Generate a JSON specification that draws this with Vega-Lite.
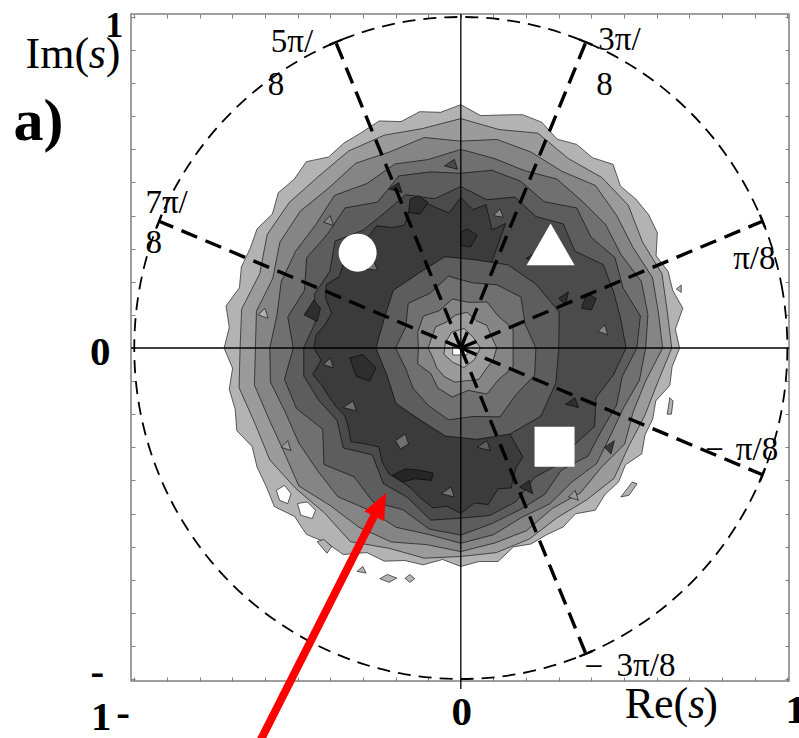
{
"$schema": "https://vega.github.io/schema/vega-lite/v6.json",
"width": 658, "height": 667,
"autosize": {"type": "none"},
"padding": {"left": 131, "top": 14, "right": 10, "bottom": 57},
"background": "white",
"config": {"view": {"stroke": "#808080", "strokeWidth": 1.5}},
"encoding": {
 "x": {"field": "x", "type": "quantitative", "scale": {"domain": [-1.01, 1.005], "nice": false, "zero": false}, "axis": null},
 "y": {"field": "y", "type": "quantitative", "scale": {"domain": [-1.006, 1.009], "nice": false, "zero": false}, "axis": null}
},
"layer": [
{
 "data": {"values": [
{"l":"a01","i":0,"x":0.670,"y":0},{"l":"a01","i":1,"x":0.657,"y":0.057},{"l":"a01","i":2,"x":0.680,"y":0.120},{"l":"a01","i":3,"x":0.649,"y":0.174},{"l":"a01","i":4,"x":0.635,"y":0.231},{"l":"a01","i":5,"x":0.598,"y":0.279},{"l":"a01","i":6,"x":0.602,"y":0.348},{"l":"a01","i":7,"x":0.575,"y":0.403},{"l":"a01","i":8,"x":0.536,"y":0.450},{"l":"a01","i":9,"x":0.489,"y":0.489},{"l":"a01","i":10,"x":0.466,"y":0.555},{"l":"a01","i":11,"x":0.403,"y":0.575},{"l":"a01","i":12,"x":0.355,"y":0.615},{"l":"a01","i":13,"x":0.295,"y":0.631},{"l":"a01","i":14,"x":0.248,"y":0.682},{"l":"a01","i":15,"x":0.189,"y":0.705},{"l":"a01","i":16,"x":0.124,"y":0.704},{"l":"a01","i":17,"x":0.061,"y":0.702},{"l":"a01","i":18,"x":0,"y":0.735},{"l":"a01","i":19,"x":-0.062,"y":0.712},{"l":"a01","i":20,"x":-0.126,"y":0.714},{"l":"a01","i":21,"x":-0.183,"y":0.684},{"l":"a01","i":22,"x":-0.250,"y":0.686},{"l":"a01","i":23,"x":-0.304,"y":0.651},{"l":"a01","i":24,"x":-0.358,"y":0.619},{"l":"a01","i":25,"x":-0.405,"y":0.577},{"l":"a01","i":26,"x":-0.473,"y":0.563},{"l":"a01","i":27,"x":-0.510,"y":0.510},{"l":"a01","i":28,"x":-0.559,"y":0.469},{"l":"a01","i":29,"x":-0.577,"y":0.405},{"l":"a01","i":30,"x":-0.624,"y":0.360},{"l":"a01","i":31,"x":-0.645,"y":0.301},{"l":"a01","i":32,"x":-0.672,"y":0.245},{"l":"a01","i":33,"x":-0.678,"y":0.182},{"l":"a01","i":34,"x":-0.719,"y":0.127},{"l":"a01","i":35,"x":-0.709,"y":0.062},{"l":"a01","i":36,"x":-0.725,"y":0},{"l":"a01","i":37,"x":-0.699,"y":-0.061},{"l":"a01","i":38,"x":-0.709,"y":-0.125},{"l":"a01","i":39,"x":-0.691,"y":-0.185},{"l":"a01","i":40,"x":-0.686,"y":-0.250},{"l":"a01","i":41,"x":-0.639,"y":-0.298},{"l":"a01","i":42,"x":-0.624,"y":-0.360},{"l":"a01","i":43,"x":-0.596,"y":-0.418},{"l":"a01","i":44,"x":-0.571,"y":-0.479},{"l":"a01","i":45,"x":-0.509,"y":-0.509},{"l":"a01","i":46,"x":-0.473,"y":-0.563},{"l":"a01","i":47,"x":-0.412,"y":-0.588},{"l":"a01","i":48,"x":-0.360,"y":-0.624},{"l":"a01","i":49,"x":-0.288,"y":-0.618},{"l":"a01","i":50,"x":-0.234,"y":-0.644},{"l":"a01","i":51,"x":-0.172,"y":-0.642},{"l":"a01","i":52,"x":-0.116,"y":-0.655},{"l":"a01","i":53,"x":-0.056,"y":-0.639},{"l":"a01","i":54,"x":0,"y":-0.660},{"l":"a01","i":55,"x":0.056,"y":-0.645},{"l":"a01","i":56,"x":0.114,"y":-0.645},{"l":"a01","i":57,"x":0.161,"y":-0.601},{"l":"a01","i":58,"x":0.215,"y":-0.592},{"l":"a01","i":59,"x":0.263,"y":-0.564},{"l":"a01","i":60,"x":0.313,"y":-0.541},{"l":"a01","i":61,"x":0.351,"y":-0.501},{"l":"a01","i":62,"x":0.412,"y":-0.490},{"l":"a01","i":63,"x":0.442,"y":-0.442},{"l":"a01","i":64,"x":0.483,"y":-0.405},{"l":"a01","i":65,"x":0.504,"y":-0.353},{"l":"a01","i":66,"x":0.554,"y":-0.320},{"l":"a01","i":67,"x":0.564,"y":-0.263},{"l":"a01","i":68,"x":0.588,"y":-0.214},{"l":"a01","i":69,"x":0.597,"y":-0.160},{"l":"a01","i":70,"x":0.640,"y":-0.113},{"l":"a01","i":71,"x":0.647,"y":-0.057},
{"l":"a02","i":0,"x":-0.565,"y":-0.43},{"l":"a02","i":1,"x":-0.54,"y":-0.415},{"l":"a02","i":2,"x":-0.52,"y":-0.44},{"l":"a02","i":3,"x":-0.53,"y":-0.47},{"l":"a02","i":4,"x":-0.555,"y":-0.46},
{"l":"a03","i":0,"x":-0.50,"y":-0.47},{"l":"a03","i":1,"x":-0.47,"y":-0.465},{"l":"a03","i":2,"x":-0.445,"y":-0.49},{"l":"a03","i":3,"x":-0.455,"y":-0.515},{"l":"a03","i":4,"x":-0.49,"y":-0.505},
{"l":"a04","i":0,"x":-0.248,"y":-0.697},{"l":"a04","i":1,"x":-0.225,"y":-0.684},{"l":"a04","i":2,"x":-0.196,"y":-0.695},{"l":"a04","i":3,"x":-0.22,"y":-0.708},
{"l":"a05","i":0,"x":-0.171,"y":-0.696},{"l":"a05","i":1,"x":-0.156,"y":-0.684},{"l":"a05","i":2,"x":-0.141,"y":-0.697},{"l":"a05","i":3,"x":-0.156,"y":-0.708},
{"l":"a06","i":0,"x":-0.318,"y":-0.675},{"l":"a06","i":1,"x":-0.3,"y":-0.66},{"l":"a06","i":2,"x":-0.29,"y":-0.68},
{"l":"a07","i":0,"x":0.49,"y":-0.45},{"l":"a07","i":1,"x":0.525,"y":-0.405},{"l":"a07","i":2,"x":0.54,"y":-0.41},{"l":"a07","i":3,"x":0.515,"y":-0.445},
{"l":"a08","i":0,"x":0.632,"y":-0.2},{"l":"a08","i":1,"x":0.64,"y":-0.15},{"l":"a08","i":2,"x":0.65,"y":-0.16},{"l":"a08","i":3,"x":0.645,"y":-0.2},
{"l":"a09","i":0,"x":0.66,"y":0.178},{"l":"a09","i":1,"x":0.675,"y":0.19},{"l":"a09","i":2,"x":0.675,"y":0.168},
{"l":"a10","i":0,"x":-0.44,"y":-0.585},{"l":"a10","i":1,"x":-0.42,"y":-0.578},{"l":"a10","i":2,"x":-0.395,"y":-0.6},{"l":"a10","i":3,"x":-0.41,"y":-0.62},
{"l":"a11","i":0,"x":0.646,"y":0},{"l":"a11","i":1,"x":0.632,"y":0.112},{"l":"a11","i":2,"x":0.616,"y":0.224},{"l":"a11","i":3,"x":0.556,"y":0.321},{"l":"a11","i":4,"x":0.513,"y":0.431},{"l":"a11","i":5,"x":0.432,"y":0.515},{"l":"a11","i":6,"x":0.33,"y":0.572},{"l":"a11","i":7,"x":0.236,"y":0.649},{"l":"a11","i":8,"x":0.117,"y":0.66},{"l":"a11","i":9,"x":0,"y":0.693},{"l":"a11","i":10,"x":-0.117,"y":0.663},{"l":"a11","i":11,"x":-0.234,"y":0.643},{"l":"a11","i":12,"x":-0.344,"y":0.595},{"l":"a11","i":13,"x":-0.435,"y":0.519},{"l":"a11","i":14,"x":-0.525,"y":0.44},{"l":"a11","i":15,"x":-0.593,"y":0.343},{"l":"a11","i":16,"x":-0.616,"y":0.224},{"l":"a11","i":17,"x":-0.671,"y":0.118},{"l":"a11","i":18,"x":-0.676,"y":0},{"l":"a11","i":19,"x":-0.679,"y":-0.12},{"l":"a11","i":20,"x":-0.63,"y":-0.229},{"l":"a11","i":21,"x":-0.585,"y":-0.338},{"l":"a11","i":22,"x":-0.506,"y":-0.424},{"l":"a11","i":23,"x":-0.418,"y":-0.498},{"l":"a11","i":24,"x":-0.338,"y":-0.585},{"l":"a11","i":25,"x":-0.22,"y":-0.605},{"l":"a11","i":26,"x":-0.112,"y":-0.635},{"l":"a11","i":27,"x":0,"y":-0.63},{"l":"a11","i":28,"x":0.109,"y":-0.618},{"l":"a11","i":29,"x":0.21,"y":-0.577},{"l":"a11","i":30,"x":0.296,"y":-0.512},{"l":"a11","i":31,"x":0.385,"y":-0.459},{"l":"a11","i":32,"x":0.469,"y":-0.394},{"l":"a11","i":33,"x":0.514,"y":-0.297},{"l":"a11","i":34,"x":0.563,"y":-0.205},{"l":"a11","i":35,"x":0.602,"y":-0.106},
{"l":"a12","i":0,"x":0.618,"y":0},{"l":"a12","i":1,"x":0.605,"y":0.107},{"l":"a12","i":2,"x":0.587,"y":0.213},{"l":"a12","i":3,"x":0.527,"y":0.304},{"l":"a12","i":4,"x":0.477,"y":0.401},{"l":"a12","i":5,"x":0.412,"y":0.491},{"l":"a12","i":6,"x":0.309,"y":0.534},{"l":"a12","i":7,"x":0.215,"y":0.592},{"l":"a12","i":8,"x":0.111,"y":0.63},{"l":"a12","i":9,"x":0,"y":0.625},{"l":"a12","i":10,"x":-0.112,"y":0.636},{"l":"a12","i":11,"x":-0.216,"y":0.593},{"l":"a12","i":12,"x":-0.322,"y":0.558},{"l":"a12","i":13,"x":-0.405,"y":0.483},{"l":"a12","i":14,"x":-0.492,"y":0.413},{"l":"a12","i":15,"x":-0.554,"y":0.32},{"l":"a12","i":16,"x":-0.576,"y":0.21},{"l":"a12","i":17,"x":-0.626,"y":0.111},{"l":"a12","i":18,"x":-0.629,"y":0},{"l":"a12","i":19,"x":-0.632,"y":-0.112},{"l":"a12","i":20,"x":-0.588,"y":-0.214},{"l":"a12","i":21,"x":-0.542,"y":-0.313},{"l":"a12","i":22,"x":-0.496,"y":-0.417},{"l":"a12","i":23,"x":-0.4,"y":-0.476},{"l":"a12","i":24,"x":-0.313,"y":-0.541},{"l":"a12","i":25,"x":-0.213,"y":-0.586},{"l":"a12","i":26,"x":-0.105,"y":-0.594},{"l":"a12","i":27,"x":0,"y":-0.615},{"l":"a12","i":28,"x":0.104,"y":-0.589},{"l":"a12","i":29,"x":0.201,"y":-0.552},{"l":"a12","i":30,"x":0.28,"y":-0.485},{"l":"a12","i":31,"x":0.367,"y":-0.437},{"l":"a12","i":32,"x":0.43,"y":-0.361},{"l":"a12","i":33,"x":0.502,"y":-0.29},{"l":"a12","i":34,"x":0.528,"y":-0.192},{"l":"a12","i":35,"x":0.566,"y":-0.1},
{"l":"a13","i":0,"x":0.566,"y":0},{"l":"a13","i":1,"x":0.573,"y":0.101},{"l":"a13","i":2,"x":0.553,"y":0.201},{"l":"a13","i":3,"x":0.49,"y":0.283},{"l":"a13","i":4,"x":0.444,"y":0.372},{"l":"a13","i":5,"x":0.372,"y":0.443},{"l":"a13","i":6,"x":0.295,"y":0.51},{"l":"a13","i":7,"x":0.195,"y":0.536},{"l":"a13","i":8,"x":0.101,"y":0.573},{"l":"a13","i":9,"x":0,"y":0.6},{"l":"a13","i":10,"x":-0.101,"y":0.569},{"l":"a13","i":11,"x":-0.202,"y":0.556},{"l":"a13","i":12,"x":-0.287,"y":0.497},{"l":"a13","i":13,"x":-0.387,"y":0.461},{"l":"a13","i":14,"x":-0.444,"y":0.373},{"l":"a13","i":15,"x":-0.506,"y":0.292},{"l":"a13","i":16,"x":-0.55,"y":0.2},{"l":"a13","i":17,"x":-0.563,"y":0.1},{"l":"a13","i":18,"x":-0.585,"y":0},{"l":"a13","i":19,"x":-0.583,"y":-0.103},{"l":"a13","i":20,"x":-0.537,"y":-0.195},{"l":"a13","i":21,"x":-0.496,"y":-0.287},{"l":"a13","i":22,"x":-0.44,"y":-0.369},{"l":"a13","i":23,"x":-0.377,"y":-0.449},{"l":"a13","i":24,"x":-0.283,"y":-0.489},{"l":"a13","i":25,"x":-0.197,"y":-0.542},{"l":"a13","i":26,"x":-0.1,"y":-0.563},{"l":"a13","i":27,"x":0,"y":-0.59},{"l":"a13","i":28,"x":0.1,"y":-0.564},{"l":"a13","i":29,"x":0.186,"y":-0.512},{"l":"a13","i":30,"x":0.272,"y":-0.471},{"l":"a13","i":31,"x":0.34,"y":-0.405},{"l":"a13","i":32,"x":0.416,"y":-0.349},{"l":"a13","i":33,"x":0.458,"y":-0.265},{"l":"a13","i":34,"x":0.498,"y":-0.181},{"l":"a13","i":35,"x":0.547,"y":-0.097},
{"l":"a14","i":0,"x":0.539,"y":0},{"l":"a14","i":1,"x":0.55,"y":0.097},{"l":"a14","i":2,"x":0.497,"y":0.181},{"l":"a14","i":3,"x":0.472,"y":0.273},{"l":"a14","i":4,"x":0.399,"y":0.335},{"l":"a14","i":5,"x":0.355,"y":0.423},{"l":"a14","i":6,"x":0.255,"y":0.442},{"l":"a14","i":7,"x":0.183,"y":0.504},{"l":"a14","i":8,"x":0.095,"y":0.537},{"l":"a14","i":9,"x":0,"y":0.528},{"l":"a14","i":10,"x":-0.094,"y":0.532},{"l":"a14","i":11,"x":-0.189,"y":0.52},{"l":"a14","i":12,"x":-0.255,"y":0.441},{"l":"a14","i":13,"x":-0.355,"y":0.423},{"l":"a14","i":14,"x":-0.409,"y":0.343},{"l":"a14","i":15,"x":-0.472,"y":0.273},{"l":"a14","i":16,"x":-0.479,"y":0.174},{"l":"a14","i":17,"x":-0.53,"y":0.094},{"l":"a14","i":18,"x":-0.513,"y":0},{"l":"a14","i":19,"x":-0.54,"y":-0.095},{"l":"a14","i":20,"x":-0.503,"y":-0.183},{"l":"a14","i":21,"x":-0.423,"y":-0.245},{"l":"a14","i":22,"x":-0.419,"y":-0.352},{"l":"a14","i":23,"x":-0.327,"y":-0.389},{"l":"a14","i":24,"x":-0.269,"y":-0.465},{"l":"a14","i":25,"x":-0.178,"y":-0.488},{"l":"a14","i":26,"x":-0.097,"y":-0.547},{"l":"a14","i":27,"x":0,"y":-0.565},{"l":"a14","i":28,"x":0.094,"y":-0.531},{"l":"a14","i":29,"x":0.178,"y":-0.49},{"l":"a14","i":30,"x":0.256,"y":-0.443},{"l":"a14","i":31,"x":0.309,"y":-0.368},{"l":"a14","i":32,"x":0.389,"y":-0.327},{"l":"a14","i":33,"x":0.431,"y":-0.249},{"l":"a14","i":34,"x":0.477,"y":-0.173},{"l":"a14","i":35,"x":0.494,"y":-0.087},
{"l":"a15","i":0,"x":0.506,"y":0},{"l":"a15","i":1,"x":0.49,"y":0.086},{"l":"a15","i":2,"x":0.468,"y":0.17},{"l":"a15","i":3,"x":0.436,"y":0.252},{"l":"a15","i":4,"x":0.349,"y":0.293},{"l":"a15","i":5,"x":0.314,"y":0.375},{"l":"a15","i":6,"x":0.23,"y":0.397},{"l":"a15","i":7,"x":0.166,"y":0.456},{"l":"a15","i":8,"x":0.079,"y":0.448},{"l":"a15","i":9,"x":0,"y":0.488},{"l":"a15","i":10,"x":-0.08,"y":0.451},{"l":"a15","i":11,"x":-0.169,"y":0.463},{"l":"a15","i":12,"x":-0.235,"y":0.407},{"l":"a15","i":13,"x":-0.299,"y":0.356},{"l":"a15","i":14,"x":-0.385,"y":0.323},{"l":"a15","i":15,"x":-0.401,"y":0.232},{"l":"a15","i":16,"x":-0.448,"y":0.163},{"l":"a15","i":17,"x":-0.445,"y":0.079},{"l":"a15","i":18,"x":-0.481,"y":0},{"l":"a15","i":19,"x":-0.481,"y":-0.085},{"l":"a15","i":20,"x":-0.435,"y":-0.158},{"l":"a15","i":21,"x":-0.379,"y":-0.219},{"l":"a15","i":22,"x":-0.36,"y":-0.302},{"l":"a15","i":23,"x":-0.271,"y":-0.323},{"l":"a15","i":24,"x":-0.237,"y":-0.41},{"l":"a15","i":25,"x":-0.164,"y":-0.451},{"l":"a15","i":26,"x":-0.092,"y":-0.52},{"l":"a15","i":27,"x":0,"y":-0.514},{"l":"a15","i":28,"x":0.089,"y":-0.506},{"l":"a15","i":29,"x":0.169,"y":-0.464},{"l":"a15","i":30,"x":0.226,"y":-0.391},{"l":"a15","i":31,"x":0.296,"y":-0.353},{"l":"a15","i":32,"x":0.348,"y":-0.292},{"l":"a15","i":33,"x":0.41,"y":-0.237},{"l":"a15","i":34,"x":0.414,"y":-0.15},{"l":"a15","i":35,"x":0.467,"y":-0.082},
{"l":"a16","i":0,"x":0.137,"y":0.376},{"l":"a16","i":1,"x":0.096,"y":0.357},{"l":"a16","i":2,"x":0.077,"y":0.433},{"l":"a16","i":3,"x":0.037,"y":0.418},{"l":"a16","i":4,"x":0,"y":0.455},{"l":"a16","i":5,"x":-0.036,"y":0.408},{"l":"a16","i":6,"x":-0.075,"y":0.424},{"l":"a16","i":7,"x":-0.119,"y":0.444},{"l":"a16","i":8,"x":-0.154,"y":0.423},{"l":"a16","i":9,"x":-0.173,"y":0.371},{"l":"a16","i":10,"x":-0.21,"y":0.364},{"l":"a16","i":11,"x":-0.258,"y":0.369},{"l":"a16","i":12,"x":-0.283,"y":0.337},{"l":"a16","i":13,"x":-0.325,"y":0.325},{"l":"a16","i":14,"x":-0.36,"y":0.302},{"l":"a16","i":15,"x":-0.36,"y":0.253},{"l":"a16","i":16,"x":-0.372,"y":0.215},{"l":"a16","i":17,"x":-0.412,"y":0.192},{"l":"a16","i":18,"x":-0.414,"y":0.15},{"l":"a16","i":19,"x":-0.396,"y":0.106},{"l":"a16","i":20,"x":-0.414,"y":0.073},{"l":"a16","i":21,"x":-0.443,"y":0.039},{"l":"a16","i":22,"x":-0.45,"y":0},{"l":"a16","i":23,"x":-0.428,"y":-0.037},{"l":"a16","i":24,"x":-0.453,"y":-0.08},{"l":"a16","i":25,"x":-0.425,"y":-0.114},{"l":"a16","i":26,"x":-0.404,"y":-0.147},{"l":"a16","i":27,"x":-0.381,"y":-0.178},{"l":"a16","i":28,"x":-0.355,"y":-0.205},{"l":"a16","i":29,"x":-0.344,"y":-0.241},{"l":"a16","i":30,"x":-0.337,"y":-0.283},{"l":"a16","i":31,"x":-0.29,"y":-0.29},{"l":"a16","i":32,"x":-0.251,"y":-0.299},{"l":"a16","i":33,"x":-0.241,"y":-0.344},{"l":"a16","i":34,"x":-0.22,"y":-0.381},{"l":"a16","i":35,"x":-0.186,"y":-0.399},{"l":"a16","i":36,"x":-0.154,"y":-0.423},{"l":"a16","i":37,"x":-0.122,"y":-0.454},{"l":"a16","i":38,"x":-0.085,"y":-0.483},{"l":"a16","i":39,"x":-0.042,"y":-0.478},{"l":"a16","i":40,"x":0,"y":-0.5},{"l":"a16","i":41,"x":0.041,"y":-0.468},{"l":"a16","i":42,"x":0.084,"y":-0.473},{"l":"a16","i":43,"x":0.114,"y":-0.425},{"l":"a16","i":44,"x":0.154,"y":-0.423},{"l":"a16","i":45,"x":0.169,"y":-0.362},{"l":"a16","i":46,"x":0.19,"y":-0.329},{"l":"a16","i":47,"x":0,"y":0},
{"l":"a17","i":0,"x":-0.21,"y":-0.385},{"l":"a17","i":1,"x":-0.17,"y":-0.365},{"l":"a17","i":2,"x":-0.12,"y":-0.37},{"l":"a17","i":3,"x":-0.085,"y":-0.378},{"l":"a17","i":4,"x":-0.09,"y":-0.4},{"l":"a17","i":5,"x":-0.14,"y":-0.395},{"l":"a17","i":6,"x":-0.18,"y":-0.405},
{"l":"a18","i":0,"x":-0.48,"y":0.1},{"l":"a18","i":1,"x":-0.45,"y":0.145},{"l":"a18","i":2,"x":-0.43,"y":0.12},{"l":"a18","i":3,"x":-0.44,"y":0.08},
{"l":"a19","i":0,"x":-0.34,"y":-0.03},{"l":"a19","i":1,"x":-0.3,"y":-0.02},{"l":"a19","i":2,"x":-0.26,"y":-0.06},{"l":"a19","i":3,"x":-0.28,"y":-0.1},{"l":"a19","i":4,"x":-0.32,"y":-0.085},
{"l":"a20","i":0,"x":0,"y":0.31},{"l":"a20","i":1,"x":0.03,"y":0.305},{"l":"a20","i":2,"x":0.05,"y":0.34},{"l":"a20","i":3,"x":0.02,"y":0.36},{"l":"a20","i":4,"x":0,"y":0.35},
{"l":"a21","i":0,"x":-0.16,"y":0.41},{"l":"a21","i":1,"x":-0.125,"y":0.405},{"l":"a21","i":2,"x":-0.1,"y":0.44},{"l":"a21","i":3,"x":-0.13,"y":0.46},{"l":"a21","i":4,"x":-0.155,"y":0.45},
{"l":"a22","i":0,"x":0.37,"y":0.12},{"l":"a22","i":1,"x":0.4,"y":0.115},{"l":"a22","i":2,"x":0.415,"y":0.15},{"l":"a22","i":3,"x":0.385,"y":0.165},
{"l":"a23","i":0,"x":-0.3,"y":0.24},{"l":"a23","i":1,"x":-0.27,"y":0.27},{"l":"a23","i":2,"x":-0.255,"y":0.235},
{"l":"a24","i":0,"x":-0.2,"y":-0.28},{"l":"a24","i":1,"x":-0.17,"y":-0.26},{"l":"a24","i":2,"x":-0.16,"y":-0.29},{"l":"a24","i":3,"x":-0.185,"y":-0.305},
{"l":"a25","i":0,"x":0.1,"y":0.4},{"l":"a25","i":1,"x":0.12,"y":0.42},{"l":"a25","i":2,"x":0.13,"y":0.395},
{"l":"a26","i":0,"x":-0.36,"y":-0.18},{"l":"a26","i":1,"x":-0.33,"y":-0.16},{"l":"a26","i":2,"x":-0.32,"y":-0.19},
{"l":"a26a","i":0,"x":-0.42,"y":0.38},{"l":"a26a","i":1,"x":-0.4,"y":0.4},{"l":"a26a","i":2,"x":-0.39,"y":0.37},
{"l":"a26b","i":0,"x":0.3,"y":0.15},{"l":"a26b","i":1,"x":0.33,"y":0.17},{"l":"a26b","i":2,"x":0.32,"y":0.13},
{"l":"a26c","i":0,"x":0.18,"y":-0.42},{"l":"a26c","i":1,"x":0.21,"y":-0.4},{"l":"a26c","i":2,"x":0.22,"y":-0.44},
{"l":"a26d","i":0,"x":0.42,"y":0.05},{"l":"a26d","i":1,"x":0.44,"y":0.07},{"l":"a26d","i":2,"x":0.45,"y":0.04},
{"l":"a26e","i":0,"x":0.44,"y":-0.3},{"l":"a26e","i":1,"x":0.47,"y":-0.28},{"l":"a26e","i":2,"x":0.46,"y":-0.32},
{"l":"a26f","i":0,"x":-0.55,"y":-0.3},{"l":"a26f","i":1,"x":-0.53,"y":-0.28},{"l":"a26f","i":2,"x":-0.52,"y":-0.31},
{"l":"a26g","i":0,"x":-0.06,"y":-0.44},{"l":"a26g","i":1,"x":-0.03,"y":-0.42},{"l":"a26g","i":2,"x":-0.02,"y":-0.45},
{"l":"a26h","i":0,"x":-0.22,"y":0.48},{"l":"a26h","i":1,"x":-0.19,"y":0.5},{"l":"a26h","i":2,"x":-0.18,"y":0.47},
{"l":"a26i","i":0,"x":-0.42,"y":-0.05},{"l":"a26i","i":1,"x":-0.4,"y":-0.03},{"l":"a26i","i":2,"x":-0.39,"y":-0.06},
{"l":"a26j","i":0,"x":0.2,"y":0.27},{"l":"a26j","i":1,"x":0.23,"y":0.29},{"l":"a26j","i":2,"x":0.24,"y":0.26},
{"l":"a26k","i":0,"x":0.33,"y":-0.45},{"l":"a26k","i":1,"x":0.35,"y":-0.43},{"l":"a26k","i":2,"x":0.36,"y":-0.46},
{"l":"a26l","i":0,"x":-0.05,"y":0.55},{"l":"a26l","i":1,"x":-0.02,"y":0.57},{"l":"a26l","i":2,"x":-0.01,"y":0.54},
{"l":"a26m","i":0,"x":0.05,"y":-0.3},{"l":"a26m","i":1,"x":0.08,"y":-0.28},{"l":"a26m","i":2,"x":0.09,"y":-0.31},
{"l":"a26n","i":0,"x":0.32,"y":-0.17},{"l":"a26n","i":1,"x":0.35,"y":-0.15},{"l":"a26n","i":2,"x":0.36,"y":-0.18},
{"l":"a26o","i":0,"x":-0.62,"y":0.1},{"l":"a26o","i":1,"x":-0.6,"y":0.12},{"l":"a26o","i":2,"x":-0.59,"y":0.09},
{"l":"a27","i":0,"x":0.3,"y":0},{"l":"a27","i":1,"x":0.301,"y":0.109},{"l":"a27","i":2,"x":0.23,"y":0.193},{"l":"a27","i":3,"x":0.145,"y":0.251},{"l":"a27","i":4,"x":0.047,"y":0.266},{"l":"a27","i":5,"x":-0.049,"y":0.276},{"l":"a27","i":6,"x":-0.13,"y":0.225},{"l":"a27","i":7,"x":-0.207,"y":0.174},{"l":"a27","i":8,"x":-0.235,"y":0.086},{"l":"a27","i":9,"x":-0.26,"y":0},{"l":"a27","i":10,"x":-0.226,"y":-0.082},{"l":"a27","i":11,"x":-0.199,"y":-0.167},{"l":"a27","i":12,"x":-0.125,"y":-0.217},{"l":"a27","i":13,"x":-0.047,"y":-0.266},{"l":"a27","i":14,"x":0.049,"y":-0.276},{"l":"a27","i":15,"x":0.15,"y":-0.26},{"l":"a27","i":16,"x":0.245,"y":-0.206},{"l":"a27","i":17,"x":0.291,"y":-0.106},
{"l":"a28","i":0,"x":0.23,"y":0},{"l":"a28","i":1,"x":0.197,"y":0.072},{"l":"a28","i":2,"x":0.184,"y":0.154},{"l":"a28","i":3,"x":0.11,"y":0.191},{"l":"a28","i":4,"x":0.035,"y":0.197},{"l":"a28","i":5,"x":-0.038,"y":0.217},{"l":"a28","i":6,"x":-0.095,"y":0.165},{"l":"a28","i":7,"x":-0.161,"y":0.135},{"l":"a28","i":8,"x":-0.169,"y":0.062},{"l":"a28","i":9,"x":-0.2,"y":0},{"l":"a28","i":10,"x":-0.169,"y":-0.062},{"l":"a28","i":11,"x":-0.146,"y":-0.122},{"l":"a28","i":12,"x":-0.1,"y":-0.173},{"l":"a28","i":13,"x":-0.038,"y":-0.217},{"l":"a28","i":14,"x":0.037,"y":-0.207},{"l":"a28","i":15,"x":0.12,"y":-0.208},{"l":"a28","i":16,"x":0.169,"y":-0.141},{"l":"a28","i":17,"x":0.226,"y":-0.082},
{"l":"a29","i":0,"x":0.16,"y":0},{"l":"a29","i":1,"x":0.16,"y":0.058},{"l":"a29","i":2,"x":0.115,"y":0.096},{"l":"a29","i":3,"x":0.08,"y":0.139},{"l":"a29","i":4,"x":0.024,"y":0.138},{"l":"a29","i":5,"x":-0.026,"y":0.148},{"l":"a29","i":6,"x":-0.065,"y":0.113},{"l":"a29","i":7,"x":-0.115,"y":0.096},{"l":"a29","i":8,"x":-0.132,"y":0.048},{"l":"a29","i":9,"x":-0.13,"y":0},{"l":"a29","i":10,"x":-0.132,"y":-0.048},{"l":"a29","i":11,"x":-0.092,"y":-0.077},{"l":"a29","i":12,"x":-0.07,"y":-0.121},{"l":"a29","i":13,"x":-0.026,"y":-0.148},{"l":"a29","i":14,"x":0.023,"y":-0.128},{"l":"a29","i":15,"x":0.08,"y":-0.139},{"l":"a29","i":16,"x":0.115,"y":-0.096},{"l":"a29","i":17,"x":0.16,"y":-0.058},
{"l":"a30","i":0,"x":0.11,"y":0},{"l":"a30","i":1,"x":0.094,"y":0.034},{"l":"a30","i":2,"x":0.08,"y":0.068},{"l":"a30","i":3,"x":0.048,"y":0.082},{"l":"a30","i":4,"x":0.019,"y":0.108},{"l":"a30","i":5,"x":-0.017,"y":0.099},{"l":"a30","i":6,"x":-0.045,"y":0.078},{"l":"a30","i":7,"x":-0.077,"y":0.064},{"l":"a30","i":8,"x":-0.089,"y":0.032},{"l":"a30","i":9,"x":-0.1,"y":0},{"l":"a30","i":10,"x":-0.085,"y":-0.031},{"l":"a30","i":11,"x":-0.073,"y":-0.061},{"l":"a30","i":12,"x":-0.05,"y":-0.087},{"l":"a30","i":13,"x":-0.018,"y":-0.103},{"l":"a30","i":14,"x":0.017,"y":-0.099},{"l":"a30","i":15,"x":0.055,"y":-0.095},{"l":"a30","i":16,"x":0.077,"y":-0.064},{"l":"a30","i":17,"x":0.099,"y":-0.036},
{"l":"a31","i":0,"x":0.06,"y":0},{"l":"a31","i":1,"x":0.038,"y":0.032},{"l":"a31","i":2,"x":0.01,"y":0.059},{"l":"a31","i":3,"x":-0.028,"y":0.048},{"l":"a31","i":4,"x":-0.047,"y":0.017},{"l":"a31","i":5,"x":-0.052,"y":-0.019},{"l":"a31","i":6,"x":-0.025,"y":-0.043},{"l":"a31","i":7,"x":0.01,"y":-0.059},{"l":"a31","i":8,"x":0.042,"y":-0.035},
{"l":"a32","i":0,"x":-0.025,"y":0.003},{"l":"a32","i":1,"x":0.019,"y":0.003},{"l":"a32","i":2,"x":0.019,"y":-0.021},{"l":"a32","i":3,"x":-0.025,"y":-0.021}
 ]},
 "mark": {"type": "line", "interpolate": "linear-closed", "stroke": "#000000", "strokeWidth": 0.6, "strokeJoin": "round"},
 "encoding": {
  "fill": {"field": "l", "type": "nominal", "legend": null,
   "scale": {"domain": ["a01","a02","a03","a04","a05","a06","a07","a08","a09","a10","a11","a12","a13","a14","a15","a16","a17","a18","a19","a20","a21","a22","a23","a24","a25","a26","a26a","a26b","a26c","a26d","a26e","a26f","a26g","a26h","a26i","a26j","a26k","a26l","a26m","a26n","a26o","a27","a28","a29","a30","a31","a32"],
    "range": ["#b3b3b3","#ffffff","#ffffff","#b3b3b3","#b3b3b3","#b3b3b3","#b3b3b3","#b3b3b3","#b3b3b3","#b3b3b3","#9b9b9b","#858585","#707070","#5d5d5d","#4b4b4b","#3b3b3b","#262626","#2e2e2e","#2e2e2e","#2e2e2e","#2e2e2e","#2e2e2e","#707070","#707070","#858585","#707070","#858585","#2e2e2e","#2e2e2e","#858585","#3b3b3b","#9b9b9b","#707070","#2e2e2e","#707070","#2e2e2e","#9b9b9b","#4b4b4b","#5d5d5d","#2e2e2e","#b3b3b3","#5d5d5d","#707070","#858585","#9b9b9b","#b3b3b3","#ffffff"]}},
  "order": {"field": "i", "type": "quantitative"}
 }
},
{
 "data": {"values": [{"x": -1.01, "y": 0, "x2": 1.005, "y2": 0}, {"x": 0, "y": 1.009, "x2": 0, "y2": -1.03}]},
 "mark": {"type": "rule", "color": "#000000", "strokeWidth": 1.3},
 "encoding": {
  "x": {"field": "x", "type": "quantitative", "scale": {"domain": [-1.01, 1.005], "nice": false, "zero": false},
   "axis": {"orient": "top", "values": [-1,-0.9,-0.8,-0.7,-0.6,-0.5,-0.4,-0.3,-0.2,-0.1,0,0.1,0.2,0.3,0.4,0.5,0.6,0.7,0.8,0.9,1], "labels": false, "domain": false, "grid": false, "ticks": true, "tickSize": -4, "tickColor": "#808080", "tickWidth": 1, "title": null}},
  "y": {"field": "y", "type": "quantitative", "scale": {"domain": [-1.006, 1.009], "nice": false, "zero": false},
   "axis": {"orient": "right", "values": [-1,-0.9,-0.8,-0.7,-0.6,-0.5,-0.4,-0.3,-0.2,-0.1,0,0.1,0.2,0.3,0.4,0.5,0.6,0.7,0.8,0.9,1], "labels": false, "domain": false, "grid": false, "ticks": true, "tickSize": -4, "tickColor": "#808080", "tickWidth": 1, "title": null}},
  "x2": {"field": "x2"},
  "y2": {"field": "y2"}
 }
},
{
 "data": {"values": [
{"i":0,"x":1,"y":0},{"i":1,"x":0.985,"y":0.174},{"i":2,"x":0.940,"y":0.342},{"i":3,"x":0.866,"y":0.5},{"i":4,"x":0.766,"y":0.643},{"i":5,"x":0.643,"y":0.766},{"i":6,"x":0.5,"y":0.866},{"i":7,"x":0.342,"y":0.940},{"i":8,"x":0.174,"y":0.985},{"i":9,"x":0,"y":1},{"i":10,"x":-0.174,"y":0.985},{"i":11,"x":-0.342,"y":0.940},{"i":12,"x":-0.5,"y":0.866},{"i":13,"x":-0.643,"y":0.766},{"i":14,"x":-0.766,"y":0.643},{"i":15,"x":-0.866,"y":0.5},{"i":16,"x":-0.940,"y":0.342},{"i":17,"x":-0.985,"y":0.174},{"i":18,"x":-1,"y":0},{"i":19,"x":-0.985,"y":-0.174},{"i":20,"x":-0.940,"y":-0.342},{"i":21,"x":-0.866,"y":-0.5},{"i":22,"x":-0.766,"y":-0.643},{"i":23,"x":-0.643,"y":-0.766},{"i":24,"x":-0.5,"y":-0.866},{"i":25,"x":-0.342,"y":-0.940},{"i":26,"x":-0.174,"y":-0.985},{"i":27,"x":0,"y":-1},{"i":28,"x":0.174,"y":-0.985},{"i":29,"x":0.342,"y":-0.940},{"i":30,"x":0.5,"y":-0.866},{"i":31,"x":0.643,"y":-0.766},{"i":32,"x":0.766,"y":-0.643},{"i":33,"x":0.866,"y":-0.5},{"i":34,"x":0.940,"y":-0.342},{"i":35,"x":0.985,"y":-0.174}
 ]},
 "mark": {"type": "line", "interpolate": "cardinal-closed", "stroke": "#000000", "strokeWidth": 1.8, "strokeDash": [13, 8], "fill": null},
 "encoding": {
  "x": {"field": "x", "type": "quantitative", "scale": {"domain": [-1.01, 1.005], "nice": false, "zero": false},
   "axis": {"orient": "bottom", "values": [-1,-0.9,-0.8,-0.7,-0.6,-0.5,-0.4,-0.3,-0.2,-0.1,0,0.1,0.2,0.3,0.4,0.5,0.6,0.7,0.8,0.9,1], "labels": false, "domain": false, "grid": false, "ticks": true, "tickSize": -4, "tickColor": "#808080", "tickWidth": 1, "title": null}},
  "y": {"field": "y", "type": "quantitative", "scale": {"domain": [-1.006, 1.009], "nice": false, "zero": false},
   "axis": {"orient": "left", "values": [-1,-0.9,-0.8,-0.7,-0.6,-0.5,-0.4,-0.3,-0.2,-0.1,0,0.1,0.2,0.3,0.4,0.5,0.6,0.7,0.8,0.9,1], "labels": false, "domain": false, "grid": false, "ticks": true, "tickSize": -4, "tickColor": "#808080", "tickWidth": 1, "title": null}},
  "order": {"field": "i", "type": "quantitative"}
 }
},
{
 "data": {"values": [
  {"x":0,"y":0,"x2":0.924,"y2":0.383},{"x":0,"y":0,"x2":0.383,"y2":0.924},{"x":0,"y":0,"x2":-0.383,"y2":0.924},{"x":0,"y":0,"x2":-0.924,"y2":0.383},{"x":0,"y":0,"x2":0.924,"y2":-0.383},{"x":0,"y":0,"x2":0.383,"y2":-0.924}
 ]},
 "mark": {"type": "rule", "color": "#000000", "strokeWidth": 3.4, "strokeDash": [17, 9]},
 "encoding": {"x2": {"field": "x2"}, "y2": {"field": "y2"}}
},
{
 "data": {"values": [
  {"x":0.916,"y":0.403,"x2":0.932,"y2":0.363},{"x":0.363,"y":0.932,"x2":0.403,"y2":0.916},{"x":-0.403,"y":0.916,"x2":-0.363,"y2":0.932},{"x":-0.932,"y":0.363,"x2":-0.916,"y2":0.403},{"x":0.932,"y":-0.363,"x2":0.916,"y2":-0.403},{"x":0.403,"y":-0.916,"x2":0.363,"y2":-0.932}
 ]},
 "mark": {"type": "rule", "color": "#000000", "strokeWidth": 2.4},
 "encoding": {"x2": {"field": "x2"}, "y2": {"field": "y2"}}
},
{
 "data": {"values": [{"x": -0.316, "y": 0.288}]},
 "mark": {"type": "point", "shape": "circle", "size": 1444, "filled": true, "fill": "#ffffff", "strokeWidth": 0, "opacity": 1}
},
{
 "data": {"values": [{"x": 0.275, "y": 0.313}]},
 "mark": {"type": "point", "shape": "triangle-up", "size": 2304, "filled": true, "fill": "#ffffff", "strokeWidth": 0, "opacity": 1}
},
{
 "data": {"values": [{"x": 0.287, "y": -0.298}]},
 "mark": {"type": "point", "shape": "square", "size": 1600, "filled": true, "fill": "#ffffff", "strokeWidth": 0, "opacity": 1}
},
{
 "data": {"values": [
  {"x":-0.517,"y":0.924,"t":"5π/"},{"x":-0.566,"y":0.796,"t":"8"},{"x":0.486,"y":0.93,"t":"3π/"},{"x":0.44,"y":0.796,"t":"8"},{"x":-0.901,"y":0.438,"t":"7π/"},{"x":-0.94,"y":0.316,"t":"8"},{"x":0.899,"y":0.27,"t":"π/8"},{"x":0.907,"y":-0.308,"t":"π/8"},{"x":0.777,"y":-0.308,"t":"−"},{"x":0.567,"y":-0.962,"t":"3π/8"},{"x":0.407,"y":-0.965,"t":"−"}
 ]},
 "mark": {"type": "text", "font": "Liberation Serif", "fontSize": 33, "align": "center", "baseline": "middle", "color": "#000000"},
 "encoding": {"text": {"field": "t"}}
},
{
 "data": {"values": [
  {"x":-1.104,"y":-0.014,"t":"0"},{"x":-1.113,"y":-0.982,"t":"-"},{"x":-1.101,"y":-1.118,"t":"1"},{"x":-1.034,"y":-1.106,"t":"-"},{"x":0.003,"y":-1.104,"t":"0"},{"x":1.026,"y":-1.098,"t":"1"}
 ]},
 "mark": {"type": "text", "font": "Liberation Serif", "fontSize": 41, "fontWeight": "bold", "align": "center", "baseline": "middle", "color": "#000000"},
 "encoding": {"text": {"field": "t"}}
},
{
 "data": {"values": [{"x": -1.061, "y": 0.972, "t": "1"}]},
 "mark": {"type": "text", "font": "Liberation Serif", "fontSize": 36, "fontWeight": "bold", "align": "center", "baseline": "middle", "color": "#000000"},
 "encoding": {"text": {"field": "t"}}
},
{
 "data": {"values": [{"x": -1.37, "y": 0.628, "t": "a)"}]},
 "mark": {"type": "text", "font": "Liberation Serif", "fontSize": 60, "fontWeight": "bold", "align": "left", "baseline": "alphabetic", "color": "#000000"},
 "encoding": {"text": {"field": "t"}}
},
{
 "data": {"values": [
  {"x":-1.333,"y":0.846,"t":"Im("},{"x":-1.087,"y":0.846,"t":")"},{"x":0.502,"y":-1.118,"t":"Re("},{"x":0.7425,"y":-1.118,"t":")"}
 ]},
 "mark": {"type": "text", "font": "Liberation Serif", "fontSize": 44, "align": "left", "baseline": "alphabetic", "color": "#000000"},
 "encoding": {"text": {"field": "t"}}
},
{
 "data": {"values": [{"x":-1.139,"y":0.846,"t":"s"},{"x":0.696,"y":-1.118,"t":"s"}]},
 "mark": {"type": "text", "font": "Liberation Serif", "fontSize": 44, "fontStyle": "italic", "align": "left", "baseline": "alphabetic", "color": "#000000"},
 "encoding": {"text": {"field": "t"}}
},
{
 "data": {"values": [{"x": -0.621, "y": -1.2, "x2": -0.262, "y2": -0.5}]},
 "mark": {"type": "rule", "color": "#ff0000", "strokeWidth": 8},
 "encoding": {"x2": {"field": "x2"}, "y2": {"field": "y2"}}
},
{
 "data": {"values": [{"x": -0.247, "y": -0.473}]},
 "mark": {"type": "point", "shape": "M0,-1L-0.85,1L0.85,1Z", "size": 676, "angle": 27, "filled": true, "fill": "#ff0000", "strokeWidth": 0, "opacity": 1}
}
],
"resolve": {"axis": {"x": "independent", "y": "independent"}}
}
